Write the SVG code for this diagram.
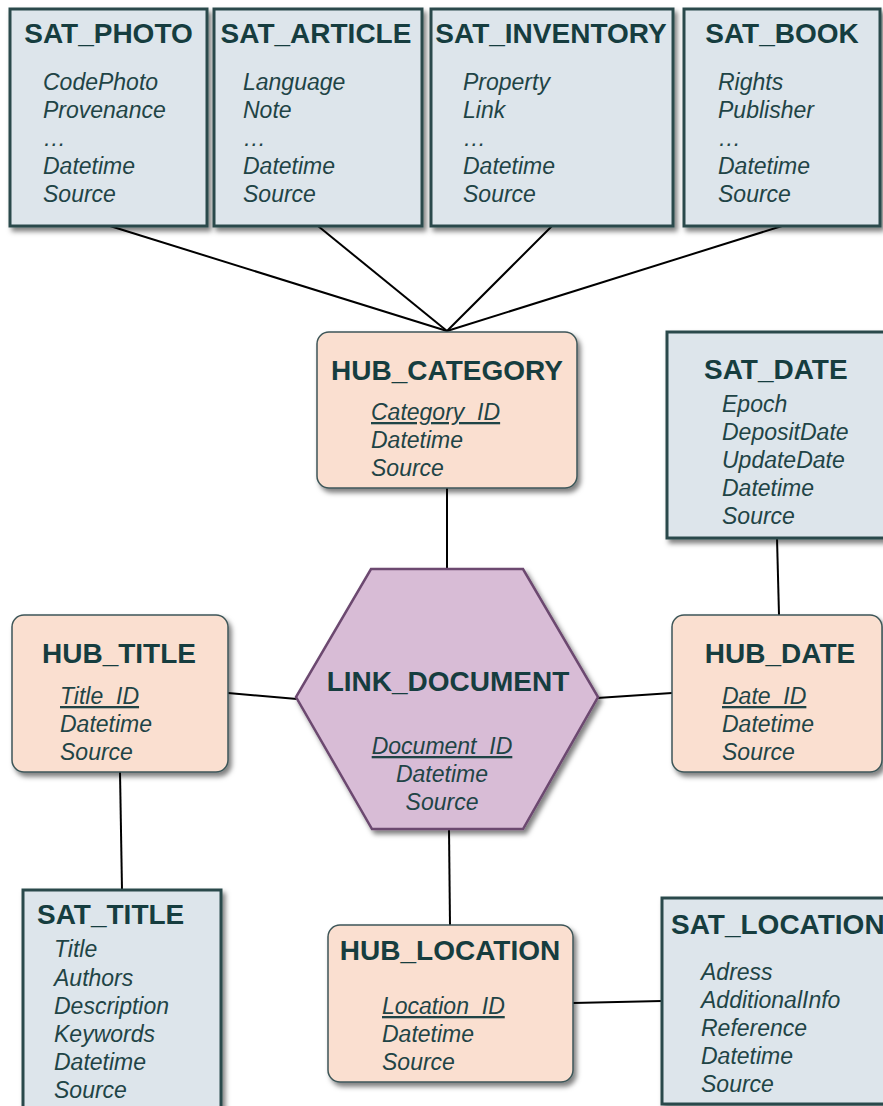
<svg xmlns="http://www.w3.org/2000/svg" width="883" height="1106" viewBox="0 0 883 1106">
<defs>
<filter id="sh" x="-10%" y="-10%" width="130%" height="130%">
<feDropShadow dx="3" dy="4" stdDeviation="2.5" flood-color="#000" flood-opacity="0.5"/>
</filter>
<style>
.sat{fill:#dde5eb;stroke:#2a4a4c;stroke-width:3;filter:url(#sh)}
.hub{fill:#fadfd0;stroke:#3e5658;stroke-width:1.5;filter:url(#sh)}
.lnk{fill:#d8bcd6;stroke:#6c4870;stroke-width:2.5;filter:url(#sh)}
.t{font-family:"Liberation Sans",Arial,sans-serif;font-weight:bold;font-size:28px;fill:#163d3f}
.b{font-family:"Liberation Sans",Arial,sans-serif;font-style:italic;font-size:23px;fill:#1f4446}
.u{text-decoration:underline}
.c{text-anchor:middle}
.e{stroke:#000;stroke-width:2;fill:none}
</style>
</defs>
<rect width="883" height="1106" fill="#fff"/>
<g id="connectors">
<line class="e" x1="110" y1="226" x2="447" y2="331"/>
<line class="e" x1="318" y1="226" x2="447" y2="331"/>
<line class="e" x1="552" y1="226" x2="447" y2="331"/>
<line class="e" x1="782" y1="226" x2="447" y2="331"/>
<line class="e" x1="447" y1="488" x2="447" y2="570"/>
<line class="e" x1="777" y1="538" x2="779" y2="615"/>
<line class="e" x1="597" y1="698" x2="672" y2="693"/>
<line class="e" x1="228" y1="693" x2="297" y2="699"/>
<line class="e" x1="120" y1="772" x2="122" y2="890"/>
<line class="e" x1="449" y1="829" x2="450" y2="925"/>
<line class="e" x1="573" y1="1003" x2="662" y2="1001"/>
</g>
<g id="sat_photo">
<rect class="sat" x="10" y="9" width="197" height="217"/>
<text class="t c" x="108.5" y="43">SAT_PHOTO</text>
<text class="b" x="43" y="90">CodePhoto</text>
<text class="b" x="43" y="118">Provenance</text>
<text class="b" x="43" y="146">…</text>
<text class="b" x="43" y="174">Datetime</text>
<text class="b" x="43" y="202">Source</text>
</g>
<g id="sat_article">
<rect class="sat" x="214" y="9" width="208" height="217"/>
<text class="t c" x="316" y="43">SAT_ARTICLE</text>
<text class="b" x="243" y="90">Language</text>
<text class="b" x="243" y="118">Note</text>
<text class="b" x="243" y="146">…</text>
<text class="b" x="243" y="174">Datetime</text>
<text class="b" x="243" y="202">Source</text>
</g>
<g id="sat_inventory">
<rect class="sat" x="431" y="9" width="242" height="217"/>
<text class="t c" x="551" y="43">SAT_INVENTORY</text>
<text class="b" x="463" y="90">Property</text>
<text class="b" x="463" y="118">Link</text>
<text class="b" x="463" y="146">…</text>
<text class="b" x="463" y="174">Datetime</text>
<text class="b" x="463" y="202">Source</text>
</g>
<g id="sat_book">
<rect class="sat" x="684" y="9" width="196" height="217"/>
<text class="t c" x="782" y="43">SAT_BOOK</text>
<text class="b" x="718" y="90">Rights</text>
<text class="b" x="718" y="118">Publisher</text>
<text class="b" x="718" y="146">…</text>
<text class="b" x="718" y="174">Datetime</text>
<text class="b" x="718" y="202">Source</text>
</g>
<g id="hub_category">
<rect class="hub" x="317" y="332" width="260" height="156" rx="12"/>
<text class="t c" x="447" y="380">HUB_CATEGORY</text>
<text class="b u" x="371" y="420">Category_ID</text>
<text class="b" x="371" y="448">Datetime</text>
<text class="b" x="371" y="476">Source</text>
</g>
<g id="sat_date">
<rect class="sat" x="667" y="332" width="230" height="206"/>
<text class="t" x="704" y="379">SAT_DATE</text>
<text class="b" x="722" y="412">Epoch</text>
<text class="b" x="722" y="440">DepositDate</text>
<text class="b" x="722" y="468">UpdateDate</text>
<text class="b" x="722" y="496">Datetime</text>
<text class="b" x="722" y="524">Source</text>
</g>
<g id="link_document">
<polygon class="lnk" points="371,569 523,569 598,697 523,829 372,829 296,697"/>
<text class="t c" x="448" y="691">LINK_DOCUMENT</text>
<text class="b u c" x="442" y="754">Document_ID</text>
<text class="b c" x="442" y="782">Datetime</text>
<text class="b c" x="442" y="810">Source</text>
</g>
<g id="hub_title">
<rect class="hub" x="12" y="615" width="216" height="157" rx="12"/>
<text class="t c" x="119" y="663">HUB_TITLE</text>
<text class="b u" x="60" y="704">Title_ID</text>
<text class="b" x="60" y="732">Datetime</text>
<text class="b" x="60" y="760">Source</text>
</g>
<g id="hub_date">
<rect class="hub" x="672" y="615" width="210" height="157" rx="12"/>
<text class="t c" x="780" y="663">HUB_DATE</text>
<text class="b u" x="722" y="704">Date_ID</text>
<text class="b" x="722" y="732">Datetime</text>
<text class="b" x="722" y="760">Source</text>
</g>
<g id="sat_title">
<rect class="sat" x="23" y="890" width="198" height="230"/>
<text class="t" x="37" y="924">SAT_TITLE</text>
<text class="b" x="54" y="957">Title</text>
<text class="b" x="54" y="986">Authors</text>
<text class="b" x="54" y="1014">Description</text>
<text class="b" x="54" y="1042">Keywords</text>
<text class="b" x="54" y="1070">Datetime</text>
<text class="b" x="54" y="1098">Source</text>
</g>
<g id="hub_location">
<rect class="hub" x="328" y="925" width="245" height="157" rx="12"/>
<text class="t c" x="450" y="960">HUB_LOCATION</text>
<text class="b u" x="382" y="1014">Location_ID</text>
<text class="b" x="382" y="1042">Datetime</text>
<text class="b" x="382" y="1070">Source</text>
</g>
<g id="sat_location">
<rect class="sat" x="662" y="898" width="240" height="206"/>
<text class="t" x="671" y="934">SAT_LOCATION</text>
<text class="b" x="701" y="980">Adress</text>
<text class="b" x="701" y="1008">AdditionalInfo</text>
<text class="b" x="701" y="1036">Reference</text>
<text class="b" x="701" y="1064">Datetime</text>
<text class="b" x="701" y="1092">Source</text>
</g>
</svg>
